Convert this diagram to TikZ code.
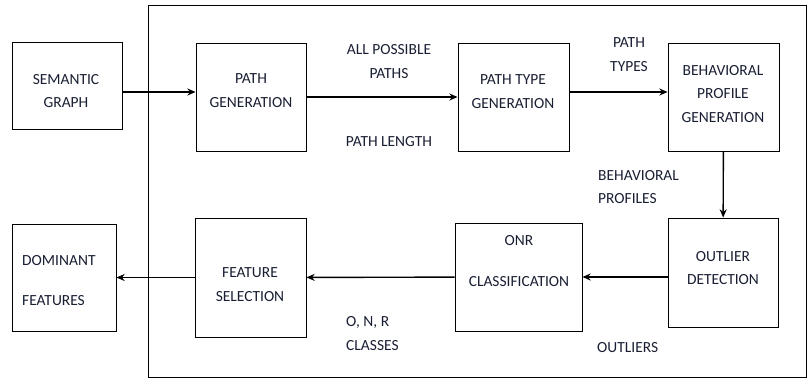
\documentclass[tikz,border=0pt]{standalone}
\usepackage{fontspec}
\setmainfont{Carlito}
\usepackage{xcolor}
\usetikzlibrary{shapes.geometric, arrows, arrows.meta, positioning, calc}
\definecolor{inkblue}{rgb}{0.10,0.12,0.20}

\begin{document}
\begin{tikzpicture}[x=0.03cm, y=-0.03cm, font=\fontsize{13.2}{20.4}\selectfont, text=inkblue]
    \tikzstyle{block} = [rectangle, draw=black, line width=0.8pt, inner sep=0pt]
    \tikzstyle{lbl} = [align=center, inner sep=0pt]
    \tikzstyle{arrow} = [line width=1.2pt,-{Stealth[length=7pt,width=6pt]}]

    \useasboundingbox (0,0) rectangle (810,378);
    % system frame
    \draw[line width=0.8pt] (148,5) rectangle (806,377);

    % upper row
    \node[block, minimum width=3.3cm, minimum height=2.61cm] (sem) at (67,85.5) {};
    \node[lbl] (semtxt) at (66,91) {SEMANTIC\\GRAPH};
    \node[block, minimum width=3.3cm, minimum height=3.24cm] (pgen) at (251,97) {};
    \node[lbl] (pgentxt) at (251,90.5) {PATH\\GENERATION};
    \node[block, minimum width=3.33cm, minimum height=3.24cm] (ptype) at (513.5,97) {};
    \node[lbl] (ptypetxt) at (513,91.5) {PATH TYPE\\GENERATION};
    \node[block, minimum width=3.33cm, minimum height=3.24cm] (behav) at (723.5,97) {};
    \node[lbl] (behavtxt) at (723,94) {BEHAVIORAL\\PROFILE\\GENERATION};

    % lower row
    \node[block, minimum width=3.3cm, minimum height=3.27cm] (outl) at (723,272.5) {};
    \node[lbl] (outltxt) at (723,268) {OUTLIER\\DETECTION};
    \node[block, minimum width=3.81cm, minimum height=3.24cm] (onr) at (518.5,277) {};
    \node[lbl] (onrtop) at (519,241) {ONR};
    \node[lbl] (onrbot) at (519,282) {CLASSIFICATION};
    \node[block, minimum width=3.33cm, minimum height=3.57cm] (feat) at (250.5,277.5) {};
    \node[lbl] (feattxt) at (250,285) {FEATURE\\SELECTION};
    \node[block, minimum width=3.12cm, minimum height=3.21cm] (dom) at (64,277.5) {};
    \node[lbl, anchor=west] (domtop) at (22,261) {DOMINANT};
    \node[lbl, anchor=west] (dombot) at (22,301) {FEATURES};

    % edge labels
    \node[lbl] (allpaths) at (389,61.5) {ALL POSSIBLE\\PATHS};
    \node[lbl] (plength) at (389,142) {PATH LENGTH};
    \node[lbl] (ptypes) at (629,54.5) {PATH\\TYPES};
    \node[lbl, anchor=west] (bprof) at (598,176) {BEHAVIORAL};
    \node[lbl, anchor=west] (bprof2) at (598,199) {PROFILES};
    \node[lbl, anchor=west] (outlrs) at (597,348) {OUTLIERS};
    \node[lbl, anchor=west] (onrcls) at (346,322) {O, N, R};
    \node[lbl, anchor=west] (classes) at (346,346) {CLASSES};

    % arrow start points
    \coordinate (semout) at ($(sem.east)+(0,6.5)$);
    \coordinate (ptypeout) at ($(ptype.east)+(0,-5)$);

    \draw[arrow] (semout) -- (semout -| pgen.west);
    \draw[arrow] (pgen) -- (ptype);
    \draw[arrow] (ptypeout) -- (ptypeout -| behav.west);
    \draw[arrow] (behav) -- (outl);
    \draw[arrow] (outl.west |- onr.east) -- (onr.east);
    \draw[arrow] (onr) -- (feat);
    \draw[arrow] (feat) -- (dom);
\end{tikzpicture}
\end{document}
